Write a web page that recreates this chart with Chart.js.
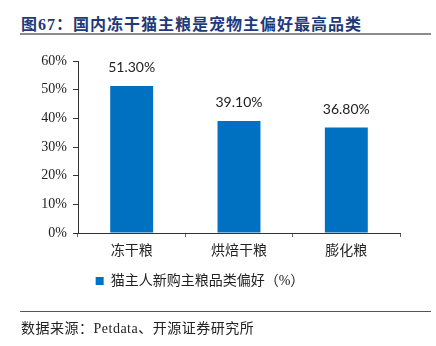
<!DOCTYPE html>
<html>
<head>
<meta charset="utf-8">
<script src="https://cdn.jsdelivr.net/npm/chart.js@4.4.0/dist/chart.umd.min.js"></script>
<style>
  body { margin: 0; background: #fff; }
  #page { position: relative; width: 436px; height: 346px; overflow: hidden; }
  #titre {
    position: absolute; left: 21px; top: 11px;
    font: bold 16px "Liberation Serif", "Noto Sans CJK SC", serif;
    color: #1f3a7a; letter-spacing: 1px;
  }
  #ligne-haut { position: absolute; left: 20px; top: 33px; width: 411px; height: 2px; background: #8c8c8c; }
  #ligne-bas { position: absolute; left: 20px; top: 311px; width: 411px; height: 1px; background: #555; }
  #source {
    position: absolute; left: 21px; top: 317px;
    font: 14px "Liberation Serif", "Noto Sans CJK SC", serif; color: #222; letter-spacing: 0.5px;
  }
  #graphique { position: absolute; left: 0; top: 0; }
</style>
</head>
<body>
<div id="page">
  <div id="titre">图67：国内冻干猫主粮是宠物主偏好最高品类</div>
  <div id="ligne-haut"></div>
  <canvas id="graphique" width="436" height="346"></canvas>
  <div id="ligne-bas"></div>
  <div id="source">数据来源：Petdata、开源证券研究所</div>
</div>
<script>
// Catégories et valeurs (en %)
const categories = ["冻干粮", "烘焙干粮", "膨化粮"];
const preferences = [51.3, 39.1, 36.8];
const nomSerie = "猫主人新购主粮品类偏好（%）";

const serif = "'Liberation Serif', 'Noto Sans CJK SC', serif";

// Étiquettes de valeur au-dessus des barres
const etiquettesValeurs = {
    id: "etiquettesValeurs",
    afterDatasetsDraw(chart) {
        const ctx = chart.ctx;
        const meta = chart.getDatasetMeta(0);
        ctx.save();
        ctx.font = "14px Lato, 'Open Sans', sans-serif";
        ctx.fillStyle = "#222";
        ctx.textAlign = "center";
        ctx.textBaseline = "bottom";
        meta.data.forEach((barre, i) => {
            ctx.fillText(preferences[i].toFixed(2) + "%", barre.x, barre.y - 11);
        });
        ctx.restore();
    }
};

const data = {
    labels: categories,
    datasets: [{
        label: nomSerie,
        data: preferences,
        backgroundColor: "#0070c0",
        barPercentage: 0.4,
        categoryPercentage: 1,
    }],
};

const config = {
    type: "bar",
    data: data,
    options: {
        responsive: false,
        animation: false,
        layout: { padding: { top: 61, right: 36, bottom: 48, left: 0 } },
        plugins: {
            legend: {
                position: "bottom",
                labels: {
                    font: { family: serif, size: 14 },
                    color: "#222",
                    boxWidth: 8,
                    boxHeight: 8,
                    padding: 9,
                },
            },
            tooltip: { enabled: false },
        },
        scales: {
            x: {
                offset: true,
                afterFit: (s) => { s.height = 32; },
                border: { color: "#333", width: 1 },
                grid: { offset: true, drawOnChartArea: false, drawTicks: true, tickLength: 4, color: "#666" },
                ticks: { font: { family: serif, size: 14 }, color: "#222", padding: 6 },
            },
            y: {
                min: 0,
                max: 60,
                afterFit: (s) => { s.width = 78; },
                border: { color: "#333", width: 1 },
                grid: { drawOnChartArea: false, drawTicks: true, tickLength: 5, color: "#333" },
                ticks: {
                    stepSize: 10,
                    font: { family: serif, size: 14 },
                    color: "#222",
                    padding: 6,
                    callback: (v) => v + "%",
                },
            },
        },
    },
    plugins: [etiquettesValeurs],
};

const graphique = new Chart(document.querySelector("#graphique"), config);
</script>
</body>
</html>
